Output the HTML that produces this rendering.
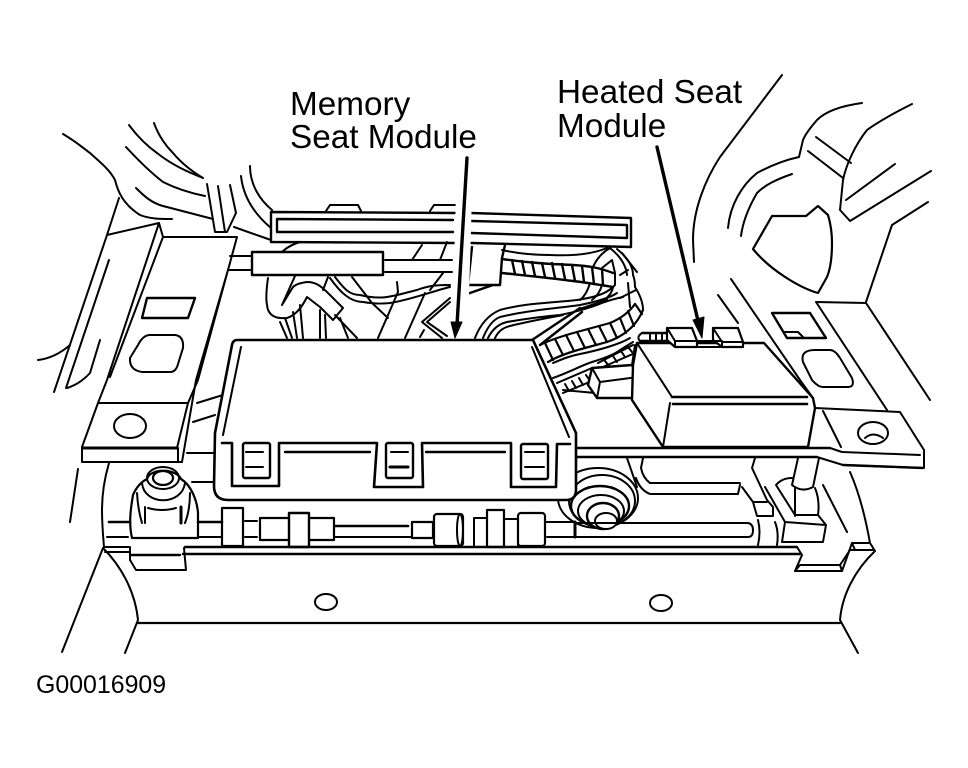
<!DOCTYPE html>
<html><head><meta charset="utf-8"><style>
html,body{margin:0;padding:0;background:#fff;width:968px;height:768px;overflow:hidden}
svg{display:block}
text{font-family:"Liberation Sans",Arial,sans-serif;fill:#000}
</style></head><body>
<svg width="968" height="768" viewBox="0 0 968 768" fill="none" stroke="#000" stroke-width="2" stroke-linecap="round" stroke-linejoin="round">
<!-- upper left curves -->
<path d="M63,134 C75,141 82,147 90,153 C100,162 110,170 115,180 C118,192 123,204 140,215 C150,219 160,219 172,219"/>
<path d="M129,125 C140,140 150,148 157,153 C172,165 188,172 203,178"/>
<path d="M154,123 C160,140 170,150 173,153 C183,165 193,172 203,178"/>
<path d="M126,147 C138,160 150,172 163,182 C177,189 190,193 205,196"/>
<path d="M136,188 C145,197 152,203 163,206 L213,219"/>
<path d="M207,184 L215,232 L227,232 L236,213 L230,185 M218,186 L225,232"/>
<path d="M250,166 C250,185 260,200 272,210 M241,176 C243,195 252,212 271,228 M234,227 L271,240"/>
<!-- left plate -->
<path d="M119,198 L107,235 L54,392 M107,235 L159,223 L107,380 L98,403 M163,237 L110,377 M163,237 L237,237 L198,380 L188,403 L177,448 M230,263 L196,380 L182,462"/>
<path d="M159,223 L163,237 M109,260 L66,388 M100,340 L90,373 Q80,384 67,388 M38,360 Q55,358 70,345"/>
<path d="M98,403 H188 M98,403 L82,447 V462 H178 L182,462 M178,448 V462" />
<path stroke-width="3" d="M83,448 H177"/>
<ellipse cx="130" cy="426" rx="16" ry="12"/>
<path stroke-width="2.4" d="M147,298 H195 L188,318 H142 Z"/>
<path d="M150,335 H175 Q184,336 183,348 L178,364 Q176,372 170,372 H142 Q129,370 130,358 L138,345 Q143,335 150,335 Z"/>
<path d="M197,403 L223,395 M193,422 L215,415 M187,453 H213 M192,482 H213"/>
<!-- top bar -->
<path stroke-width="2.4" d="M455,213 L271,212 V242 L455,243 M471,213 L631,218 V247 L471,243"/>
<path stroke-width="2.4" d="M453,220 L277,219 V232 L453,232 M471,221 L627,225 V238 L471,233"/>
<path d="M326,211 L330,205 H358 L361,211 M430,211 L434,205 H455"/>
<!-- second bar and wiring -->
<path d="M230,256 H252 M228,270 H252 M385,260 H452 M385,272 H452 M283,251 Q290,245 300,242"/>
<rect x="252" y="252" width="131" height="23" stroke-width="2.4"/>
<path d="M268,278 C266,292 266,300 267,305 C268,316 276,319 287,318 C297,315 303,305 307,297 L320,307 L333,320 L343,308 L328,293 C320,285 315,282 307,282 C299,283 295,285 293,287 L282,305 L295,276"/>
<path d="M335,277 C345,290 350,295 360,295 C372,298 380,298 387,297 C400,295 408,292 417,290 C430,285 440,285 450,285 M330,278 C340,292 350,302 363,302 C375,304 382,304 390,303 C410,300 430,292 450,287"/>
<path d="M328,277 L323,290 M352,277 L372,303 L388,318 M397,282 L398,292 L378,338 M422,245 L412,260 M447,242 L440,260 M425,293 L405,338 M443,273 L430,290"/>
<path d="M335,315 L357,338 M340,318 L348,338 M280,322 L287,338 M285,318 L292,338 M293,312 L297,338 M300,305 L303,338 M320,310 V338 M325,315 L326,338"/>
<path d="M450,298 L422,322 L442,338 M450,302 L427,322 L447,336 M420,337 L424,330"/>
<path stroke-width="2.4" d="M472,247 L468,285 H500 L502,258 L505,245 M467,294 L493,285"/>
<!-- ribbed wires -->
<path d="M502,250 C520,254 535,255 550,255 C570,256 590,255 607,248"/>
<path stroke-width="2.4" d="M502,259 C530,263 550,264 573,265 C590,266 600,268 613,273 M502,273 C530,276 550,278 573,281 C590,283 600,285 613,287"/>
<path stroke-width="2.4" d="M512,260 L515,274 M522,261 L525,275 M532,262 L535,276 M542,263 L545,277 M552,263 L555,278 M562,264 L565,279 M572,265 L575,281 M582,266 L584,282 M592,267 L594,284 M602,269 L603,285"/>
<path d="M475,338 C480,325 488,315 500,310 C525,303 550,303 577,300 C590,298 605,295 613,287 M483,338 C487,328 492,320 500,317 C525,311 550,309 580,305 C595,302 610,298 617,293 M488,338 C492,330 498,324 507,322 C530,318 548,316 560,315 C575,312 590,308 602,303 C610,300 618,298 623,297 M495,338 C498,332 502,328 510,326 C530,321 548,318 563,315"/>
<path stroke-width="2.4" d="M532,340 L580,308 M540,345 L582,312 M607,300 L580,309"/>
<path d="M617,249 C628,258 633,267 633,275 C635,280 635,285 635,287 C640,295 643,302 643,310"/>
<path d="M610,248 C620,256 626,265 627,275 M593,267 C597,258 603,252 610,248 M602,268 L612,260 L615,273 M615,273 V285 L613,287 M590,283 C588,290 585,296 580,300 M602,285 C600,292 596,297 592,300 M613,287 C612,294 607,297 605,300"/>
<path stroke-width="2.2" d="M540,345 C550,340 566,335 577,332 L610,323 C622,318 630,311 635,304 M548,362 C558,356 570,352 585,348 L607,342 C622,337 636,327 643,310"/>
<path d="M628,283 L630,307 M622,253 L637,272 M628,270 L620,275 M620,298 L636,290"/>
<path stroke-width="2.2" d="M545,343 L553,360 M555,339 L563,355 M566,335 L574,351 M577,332 L585,348 M588,329 L596,345 M599,326 L607,342 M610,323 L617,338 M620,318 L626,333 M628,311 L634,326 M635,304 L642,314"/>
<path d="M553,363 C565,358 570,356 580,354 C600,350 620,344 630,338 M553,378 C570,372 580,366 592,362 C605,358 615,354 620,350 L633,342"/>
<path d="M557,383 L592,368 M563,393 L592,381 M565,384 L569,391 M572,381 L576,388 M579,378 L583,385 M586,375 L590,381 M563,390 L595,393 M598,363 L633,345 M603,367 L635,353 M605,361 L609,366 M613,356 L617,362 M621,351 L625,357 M628,347 L632,352"/>
<path stroke-width="2.4" d="M642,333 H667 M640,341 H667"/>
<path d="M650,333 V341 M656,333 V341 M662,333 V341 M642,333 Q636,337 640,341"/>
<path fill="#fff" stroke-width="2.4" d="M592,368 L632,365 L638,377 L637,398 H597 L588,385 Z"/>
<path d="M592,368 L600,382 L638,377 M600,382 L597,398 M632,365 L635,345"/>
<!-- grommet -->
<ellipse cx="598" cy="498" rx="40" ry="30"/>
<ellipse cx="602" cy="501" rx="33" ry="26" fill="#fff"/>
<ellipse cx="600" cy="506" rx="29" ry="20" fill="#fff" stroke-width="2.4"/>
<ellipse cx="601" cy="511" rx="23" ry="16" fill="#fff"/>
<ellipse cx="603" cy="516" rx="16" ry="13" fill="#fff" stroke-width="2.4"/>
<ellipse cx="606" cy="521" rx="11" ry="8" fill="#fff"/>
<!-- memory seat module -->
<path fill="#fff" stroke-width="2.6" d="M237,340 L533,340 L576,433 V490 Q576,500 566,500 H228 Q214,500 214,486 L215,433 L232,345 Q233,340 237,340 Z"/>
<path d="M241,347 L223,435 M532,347 L569,437"/>
<path stroke-width="2.6" d="M222,443 H232 V486 H279 V443 H377 L374,487 H423 L422,443 H511 V487 H556 L557,444 H570"/>
<path stroke-width="2.4" d="M285,452 H370 M426,452 H505"/>
<rect x="243" y="443" width="27" height="35" rx="2" stroke-width="2.4"/>
<rect x="386" y="443" width="27" height="35" rx="2" stroke-width="2.4"/>
<rect x="521" y="444" width="27" height="35" rx="2" stroke-width="2.4"/>
<path d="M246,452 H263 M246,467 H263 M391,452 H408 M525,452 H544 M525,467 H544"/>
<path stroke-width="3" d="M390,467 H408"/>
<!-- right heated module -->
<path fill="#fff" stroke-width="2.4" d="M637,343 H764 L813,398 L815,408 L808,447 H663 L632,400 L633,365 Z"/>
<path d="M637,343 L672,397 M670,403 L663,447"/>
<path stroke-width="2.6" d="M672,397 H807 M673,404 H807"/>
<path fill="#fff" stroke-width="2.2" d="M667,328 H692 L697,341 V347 H675 L667,340 Z"/>
<path d="M667,328 L675,341 V347 M675,341 H697"/>
<path fill="#fff" stroke-width="2.2" d="M713,328 H738 L743,342 V347 H722 L713,340 Z"/>
<path d="M713,328 L722,342 V347 M722,342 H743 M695,341 H722 M695,347 H722"/>
<!-- right top curves -->
<path d="M782,75 L720,157 C705,180 693,210 693,240 L694,262"/>
<path d="M862,103 C840,106 825,112 817,120 C810,128 805,135 803,140 L799,157 C785,160 770,166 757,173 C742,185 730,205 728,228"/>
<path d="M792,174 C775,180 765,185 757,193 C750,205 743,220 741,236"/>
<path d="M816,137 L851,163 M808,151 L843,178"/>
<path d="M912,104 C890,115 878,122 867,130 C855,145 846,165 843,180 L840,210 L850,221 L931,171 M895,164 L846,200"/>
<path d="M928,202 L892,225 L866,302"/>
<path stroke-width="2.2" d="M753,249 L772,216 H806 L818,206 L828,215 C831,225 832,235 832,243 C832,260 830,270 827,277 L818,293 C800,288 770,270 753,249 Z"/>
<path d="M731,279 L800,380 L813,398 M718,295 L738,323"/>
<path d="M816,302 L866,303 L930,400 M816,302 L887,410"/>
<path stroke-width="2.4" d="M787,338 H826 L810,313 H772 Z"/>
<path d="M785,332 H798 L803,337"/>
<path d="M815,350 H830 Q835,350 840,358 L852,378 Q855,387 848,387 H823 Q818,387 812,380 L803,362 Q800,350 815,350 Z"/>
<!-- right flat bar -->
<path d="M815,408 L900,412 L924,450 V468 L843,465 L817,457 H577 M577,448 H830 L842,452 L920,455 M823,411 L841,447"/>
<path stroke-width="2.4" d="M577,448 H830 M577,457 H817 M843,465 L923,468"/>
<ellipse cx="873" cy="433" rx="15" ry="11"/>
<path d="M865,438 Q873,431 883,438"/>
<!-- below plate -->
<path d="M627,458 L637,487 M643,458 L641,468 Q643,478 650,483 H740 M636,478 Q640,490 650,494 H738 L740,485"/>
<path d="M755,458 L752,468 L767,500 L773,507 V516 H757 L753,502 L742,487 M753,502 H767"/>
<path d="M765,487 L785,522 L782,542 H823 L826,525 L818,515 H795 L776,485 Q782,478 792,478 M785,522 L826,525"/>
<path d="M798,458 L792,485 Q802,493 813,487 L819,458 M795,488 V516 M815,488 Q820,500 818,515"/>
<path d="M758,520 Q761,532 758,545 M775,522 Q779,532 777,545"/>
<path d="M823,485 L847,532 M850,472 C858,490 865,515 870,543"/>
<!-- harness -->
<path stroke-width="2.6" d="M109,522 H130 M198,522 H222 M335,526 H408"/>
<path d="M107,537 H128 M198,537 H222 M245,521 H257 M245,537 H257 M335,537 H412"/>
<rect x="222" y="508" width="21" height="38" stroke-width="2.2"/>
<rect x="260" y="518" width="74" height="22" stroke-width="2.2"/>
<rect x="289" y="513" width="20" height="34" fill="#fff" stroke-width="2.4"/>
<rect x="412" y="522" width="21" height="16" stroke-width="2.2"/>
<rect x="434" y="514" width="29" height="32" rx="3" stroke-width="2.2"/>
<ellipse cx="460" cy="530" rx="3" ry="16"/>
<rect x="474" y="518" width="13" height="29"/>
<rect x="487" y="510" width="17" height="37" stroke-width="2.2"/>
<rect x="504" y="519" width="14" height="28"/>
<rect x="518" y="513" width="27" height="33" rx="3" stroke-width="2.2"/>
<path d="M545,522 H575 V537 H547 M577,523 H748 Q753,524 753,530 Q753,537 748,537 H577"/>
<path stroke-width="3" d="M575,522 V537"/>
<!-- knob -->
<path stroke-width="2.2" d="M132,538 C129,525 130,512 133,495 C136,488 141,482 147,479 C150,468 176,468 181,479 C191,485 197,500 198,513 V538 Z"/>
<ellipse cx="163" cy="478" rx="16" ry="11"/>
<ellipse cx="163" cy="478" rx="10" ry="7" stroke-width="2.2"/>
<path d="M142,483 C144,506 182,506 185,483 M137,493 Q138,510 142,523 M145,507 V523 M148,508 Q162,512 176,508 M190,493 Q190,510 185,523"/>
<path stroke-width="3" d="M181,507 V523"/>
<!-- bottom tray -->
<path d="M109,463 C104,480 102,495 102,510 C102,525 103,535 104,547 H130 V560 L136,570 H186 L184,548 L185,547 H797 L802,555 L795,571 H842 L852,543 H870 L875,551"/>
<path stroke-width="2.4" d="M185,547 H797 M183,554 H800"/>
<path stroke-width="2.4" d="M130,555 H180"/>
<path d="M105,552 H130 M800,565 H840 L850,550 H873 M852,543 L855,550 M842,571 L840,565 M795,571 L800,565"/>
<path d="M875,551 C855,570 842,595 840,620 L858,653"/>
<path d="M103,548 C120,565 135,590 138,620 L125,653 M103,548 L62,652"/>
<path d="M78,469 L70,522"/>
<path stroke-width="2.2" d="M138,623 H840"/>
<ellipse cx="326" cy="602" rx="11" ry="8"/>
<ellipse cx="661" cy="603" rx="11" ry="8"/>
<!-- arrows -->
<path stroke="#fff" stroke-width="16" stroke-linecap="butt" d="M464,196 L461,296"/>
<path stroke-width="3.4" d="M467,158 L457,325 M657,147 L699,325"/>
<path fill="#000" stroke-width="1" d="M451,322 L462,322 L455,338 Z M693,320 L704,317 L702,338 Z"/>
<!-- labels -->
<g stroke="none">
<text x="290" y="115" font-size="33.3">Memory</text>
<text x="290" y="148" font-size="33.3">Seat Module</text>
<text x="557" y="103" font-size="33.3">Heated Seat</text>
<text x="557" y="137" font-size="33.3">Module</text>
<text x="36" y="693" font-size="24.9">G00016909</text>
</g>
</svg>
</body></html>
